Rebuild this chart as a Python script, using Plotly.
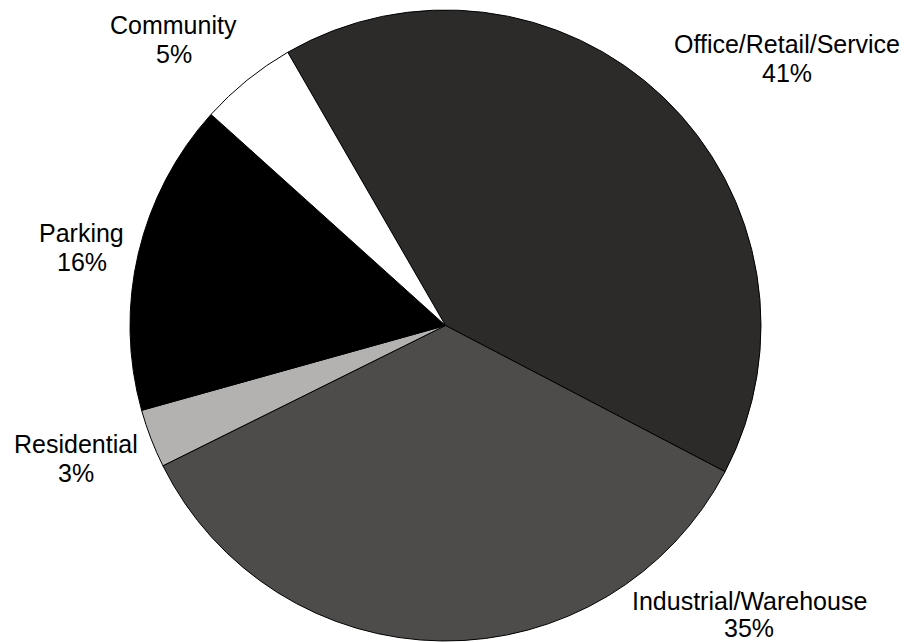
import plotly.graph_objects as go

categories = ["Office/Retail/Service", "Industrial/Warehouse", "Residential", "Parking", "Community"]
values = [41, 35, 3, 16, 5]
pct_labels = ["41%", "35%", "3%", "16%", "5%"]
colors = ["#2d2b2a", "#4e4c4b", "#b3b2b1", "#000000", "#ffffff"]

W, H = 905, 642
# label anchor points in pixels (x center, y center of first line, gap to second line)
label_pos = [(787, 44, 29), (749, 601, 27), (75.5, 444, 29), (81.5, 233, 29), (173.5, 25, 29)]

fig = go.Figure()
fig.add_trace(go.Pie(
    labels=categories,
    values=values,
    sort=False,
    direction="clockwise",
    rotation=-30,
    marker=dict(colors=colors, line=dict(color="#000000", width=1)),
    textinfo="none",
    hoverinfo="label+percent",
    showlegend=False,
    domain=dict(x=[130 / W, 761 / W], y=[1 / H, 1 - 10 / H]),
))

font = dict(family="Liberation Sans, Arial, sans-serif", size=25, color="#000000")
annotations = []
for name, pct, (px, py, gap) in zip(categories, pct_labels, label_pos):
    for i, txt in enumerate([name, pct]):
        annotations.append(dict(
            text=txt, x=px / W, y=1 - (py + i * gap) / H,
            xref="paper", yref="paper", xanchor="center", yanchor="middle",
            showarrow=False, font=font,
        ))

fig.update_layout(
    width=W, height=H,
    margin=dict(l=0, r=0, t=0, b=0),
    paper_bgcolor="#ffffff",
    plot_bgcolor="#ffffff",
    annotations=annotations,
)

fig.write_html(
    "out.html",
    config={"displayModeBar": False},
    post_script="document.body.style.margin='0';document.body.style.overflow='hidden';",
)
